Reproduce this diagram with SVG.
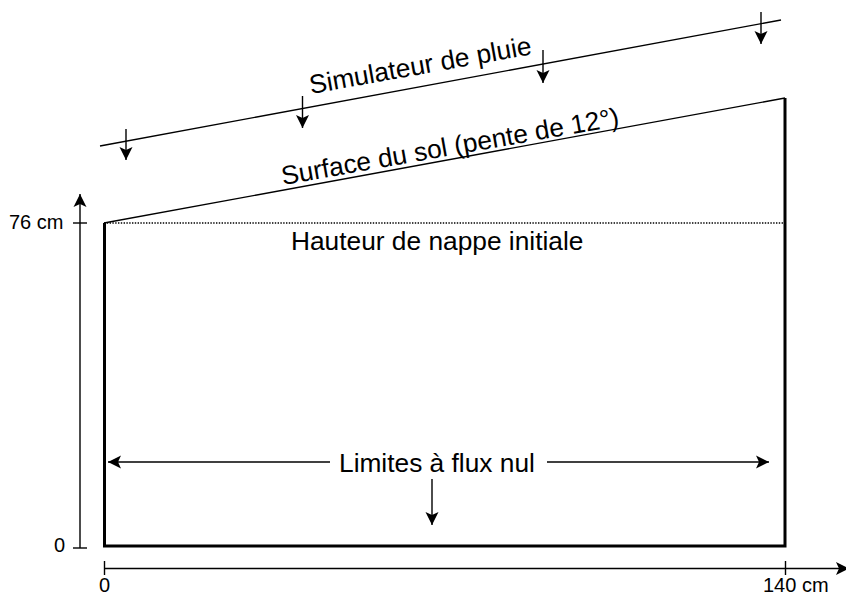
<svg xmlns="http://www.w3.org/2000/svg" width="846" height="596" viewBox="0 0 846 596">
<defs>
<marker id="a" markerUnits="userSpaceOnUse" markerWidth="14" markerHeight="14" refX="13" refY="7" orient="auto"><path d="M0 0.5L13 7L0 13.500L3 7Z" fill="#000"/></marker>
</defs>
<style>
text{font-family:"Liberation Sans",Arial,sans-serif;fill:#000}
.l{font-size:26.3px}.s{font-size:20px}
.t{stroke:#000;stroke-width:1.4;fill:none}
.b{stroke:#000;stroke-width:3;fill:none}
.ar{stroke:#000;stroke-width:1.4;fill:none;marker-end:url(#a)}
</style>
<rect width="846" height="596" fill="#fff"/>
<g id="connectors">
<line class="t" x1="100" y1="146" x2="781" y2="20"/>
<line class="ar" x1="126" y1="129" x2="126" y2="160"/>
<line class="ar" x1="302.500" y1="96" x2="302.500" y2="128"/>
<line class="ar" x1="543" y1="50" x2="543" y2="83"/>
<line class="ar" x1="761" y1="12" x2="761" y2="44"/>
<line class="ar" x1="80" y1="548" x2="80" y2="194"/>
<line class="t" x1="73" y1="223" x2="87" y2="223"/>
<line class="t" x1="73" y1="548" x2="87" y2="548"/>
<line class="ar" x1="104.500" y1="568.500" x2="849" y2="568.500"/>
<line class="t" x1="104.500" y1="561" x2="104.500" y2="575"/>
<line class="t" x1="785.500" y1="561" x2="785.500" y2="575"/>
<line class="ar" x1="330" y1="462" x2="108" y2="462"/>
<line class="ar" x1="547" y1="462" x2="769" y2="462"/>
<line class="ar" x1="432" y1="479" x2="432" y2="525"/>
</g>
<g id="soil">
<path class="b" d="M104.500 223V546H785V98"/>
<line class="t" x1="104" y1="223" x2="785" y2="98"/>
<line x1="104" y1="223" x2="785" y2="223" stroke="#000" stroke-width="1.400" stroke-dasharray="1.400 1.400"/>
</g>
<g id="labels">
<text class="l" transform="translate(311 94) rotate(-10.200)">Simulateur de pluie</text>
<text class="l" transform="translate(283 185) rotate(-10)">Surface du sol (pente de 12°)</text>
<text class="l" x="291" y="250">Hauteur de nappe initiale</text>
<text class="l" x="339" y="472">Limites à flux nul</text>
<text class="s" x="9" y="229">76 cm</text>
<text class="s" x="54" y="552">0</text>
<text class="s" x="99" y="591.700">0</text>
<text class="s" x="763" y="591.700">140 cm</text>
</g>
</svg>
